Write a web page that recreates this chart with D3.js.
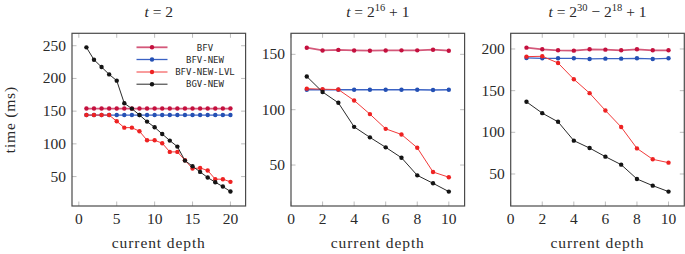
<!DOCTYPE html>
<html>
<head>
<meta charset="utf-8">
<script src="https://cdn.jsdelivr.net/npm/d3@7"></script>
<style>
  body { margin: 0; background: #fff; }
</style>
</head>
<body>
<svg id="chart"></svg>
<script>
// series names
const seriesNames = ["BFV", "BFV-NEW", "BFV-NEW-LVL", "BGV-NEW"];

// panel 1: t = 2
const depth1 = [1, 2, 3, 4, 5, 6, 7, 8, 9, 10, 11, 12, 13, 14, 15, 16, 17, 18, 19, 20];
const bfv1 = [154, 154, 154, 154, 154, 154, 154, 154, 154, 154, 154, 154, 154, 154, 154, 154, 154, 154, 154, 154];
const bfvNew1 = [144, 144, 144, 144, 144, 144, 144, 144, 144, 144, 144, 144, 144, 144, 144, 144, 144, 144, 144, 144];
const bfvNewLvl1 = [144, 144, 144, 144, 134.5, 124.8, 124.8, 119.2, 105.5, 105.5, 101, 87.7, 87.7, 75, 62.2, 63.2, 59.2, 46, 46, 41.9];
const bgvNew1 = [247.5, 228.6, 217.4, 206.2, 196.6, 162, 153.8, 144.1, 134, 125.3, 115.1, 105, 95.8, 74.4, 65.8, 57.1, 48.5, 41.3, 34.7, 27.1];

// panel 2: t = 2^16 + 1
const depth2 = [1, 2, 3, 4, 5, 6, 7, 8, 9, 10];
const bfv2 = [156, 153.5, 154, 153.5, 153.3, 153.5, 153.6, 153.6, 154.2, 153.3];
const bfvNew2 = [118, 118, 118, 118, 118, 118, 118, 118, 117.8, 118];
const bfvNewLvl2 = [119, 118.5, 118.2, 108.3, 96, 82.7, 77.6, 65.6, 43.7, 39];
const bgvNew2 = [130, 116, 106.2, 84.5, 75, 66, 56.6, 40.7, 33.5, 26];

// panel 3: t = 2^30 - 2^18 + 1
const depth3 = [1, 2, 3, 4, 5, 6, 7, 8, 9, 10];
const bfv3 = [201.6, 199.6, 198.4, 198, 199.6, 199.2, 198.4, 199.6, 198.4, 198.4];
const bfvNew3 = [189.2, 188.8, 188.8, 188.8, 188, 188.4, 188.4, 188.8, 188, 188.8];
const bfvNewLvl3 = [190.8, 191.2, 183.2, 163.7, 147, 126.2, 106.3, 80.7, 67.6, 63.6];
const bgvNew3 = [136.6, 123, 112.6, 90, 81.1, 70.8, 61.2, 44, 36, 28.9];

// tick labels
const xTicks1 = [0, 5, 10, 15, 20];
const xTicks23 = [0, 2, 4, 6, 8, 10];
const yTicks1 = [50, 100, 150, 200, 250];
const yTicks2 = [50, 100, 150];
const yTicks3 = [50, 100, 150, 200];

const lineColors = ["#d4587a", "#3a62c4", "#f23a3a", "#2a2a2a"];
const dotColors = ["#c4103e", "#2450b4", "#ee2222", "#141414"];
const lineWidths = [1.8, 1.3, 1, 1];

const W = 685, H = 254;
const svg = d3.select("#chart").attr("width", W).attr("height", H);

const plotTop = 33.3, plotBottom = 206, pw = 173.6;

const panels = [
  { left: 72, xDom: [-0.9, 22], yDom: [5, 269], xTicks: xTicks1, yTicks: yTicks1,
    x: depth1, ys: [bfv1, bfvNew1, bfvNewLvl1, bgvNew1], legend: true },
  { left: 291, xDom: [0, 11], yDom: [13, 169], xTicks: xTicks23, yTicks: yTicks2,
    x: depth2, ys: [bfv2, bfvNew2, bfvNewLvl2, bgvNew2] },
  { left: 510.7, xDom: [0, 11], yDom: [11.6, 218.8], xTicks: xTicks23, yTicks: yTicks3,
    x: depth3, ys: [bfv3, bfvNew3, bfvNewLvl3, bgvNew3] }
];

// titles as tspan pieces: [text, italic, superscript]
const titles = [
  [["t", 1, 0], [" = 2", 0, 0]],
  [["t", 1, 0], [" = 2", 0, 0], ["16", 0, 1], [" + 1", 0, 0]],
  [["t", 1, 0], [" = 2", 0, 0], ["30", 0, 1], [" \u2212 2", 0, 0], ["18", 0, 1], [" + 1", 0, 0]]
];

// serif text, stands in for the LaTeX font
function serifText(sel) {
  return sel.append("text").attr("font-family", "Liberation Serif").attr("fill", "#2a2a2a");
}

panels.forEach((p, i) => {
  const x = d3.scaleLinear().domain(p.xDom).range([p.left, p.left + pw]);
  const y = d3.scaleLinear().domain(p.yDom).range([plotBottom, plotTop]);
  const g = svg.append("g");

  // tick marks, inward on all four sides
  const tickLen = 4.5;
  p.xTicks.forEach(t => {
    g.append("line").attr("x1", x(t)).attr("x2", x(t)).attr("y1", plotBottom).attr("y2", plotBottom - tickLen)
      .attr("stroke", "#b5b5b5").attr("stroke-width", 0.9);
    g.append("line").attr("x1", x(t)).attr("x2", x(t)).attr("y1", plotTop).attr("y2", plotTop + tickLen)
      .attr("stroke", "#b5b5b5").attr("stroke-width", 0.9);
    serifText(g).attr("x", x(t)).attr("y", 223.5).attr("text-anchor", "middle")
      .attr("font-size", 15.5).text(t);
  });
  p.yTicks.forEach(t => {
    g.append("line").attr("x1", p.left).attr("x2", p.left + tickLen).attr("y1", y(t)).attr("y2", y(t))
      .attr("stroke", "#b5b5b5").attr("stroke-width", 0.9);
    g.append("line").attr("x1", p.left + pw).attr("x2", p.left + pw - tickLen).attr("y1", y(t)).attr("y2", y(t))
      .attr("stroke", "#b5b5b5").attr("stroke-width", 0.9);
    serifText(g).attr("x", p.left - 6).attr("y", y(t) + 5).attr("text-anchor", "end")
      .attr("font-size", 15.5).text(t);
  });

  // frame
  g.append("rect").attr("x", p.left).attr("y", plotTop).attr("width", pw).attr("height", plotBottom - plotTop)
    .attr("fill", "none").attr("stroke", "#4a4a4a").attr("stroke-width", 1.2);

  // series
  const line = d3.line().x(d => x(d[0])).y(d => y(d[1]));
  p.ys.forEach((vals, s) => {
    const pts = p.x.map((d, k) => [d, vals[k]]);
    g.append("path").datum(pts).attr("d", line).attr("fill", "none")
      .attr("stroke", lineColors[s]).attr("stroke-width", lineWidths[s]);
    g.selectAll(null).data(pts).enter().append("circle")
      .attr("cx", d => x(d[0])).attr("cy", d => y(d[1])).attr("r", 2.2)
      .attr("fill", dotColors[s]);
  });

  // title
  const cx = p.left + pw / 2;
  const tt = serifText(g).attr("x", cx).attr("y", 17).attr("text-anchor", "middle").attr("font-size", 15.5);
  let sup = false;
  titles[i].forEach(([str, it, sp]) => {
    const ts = tt.append("tspan").text(str);
    if (it) ts.attr("font-style", "italic");
    if (sp && !sup) { ts.attr("dy", -6).attr("font-size", 10.5); sup = true; }
    else if (sp) { ts.attr("font-size", 10.5); }
    else if (sup) { ts.attr("dy", 6); sup = false; }
  });

  // x axis label
  serifText(g).attr("x", cx).attr("y", 248).attr("text-anchor", "middle")
    .attr("font-size", 15.5).attr("letter-spacing", 0.9).text("current depth");

  // legend
  if (p.legend) {
    const lg = g.append("g");
    const rows = [47.3, 59.5, 72, 84.2];
    seriesNames.forEach((name, s) => {
      lg.append("line").attr("x1", 136.5).attr("x2", 167.5).attr("y1", rows[s]).attr("y2", rows[s])
        .attr("stroke", lineColors[s]).attr("stroke-width", lineWidths[s]);
      lg.append("circle").attr("cx", 152).attr("cy", rows[s]).attr("r", 2.2).attr("fill", dotColors[s]);
      lg.append("text").attr("x", 205).attr("y", rows[s] + 3.2).attr("text-anchor", "middle")
        .attr("font-family", "DejaVu Sans Mono").attr("font-size", 9).attr("fill", "#2a2a2a").text(name);
    });
  }
});

// y axis label
serifText(svg).attr("transform", `translate(15,${(plotTop + plotBottom) / 2}) rotate(-90)`)
  .attr("text-anchor", "middle").attr("font-size", 15.5).attr("letter-spacing", 0.8).text("time (ms)");
</script>
</body>
</html>
